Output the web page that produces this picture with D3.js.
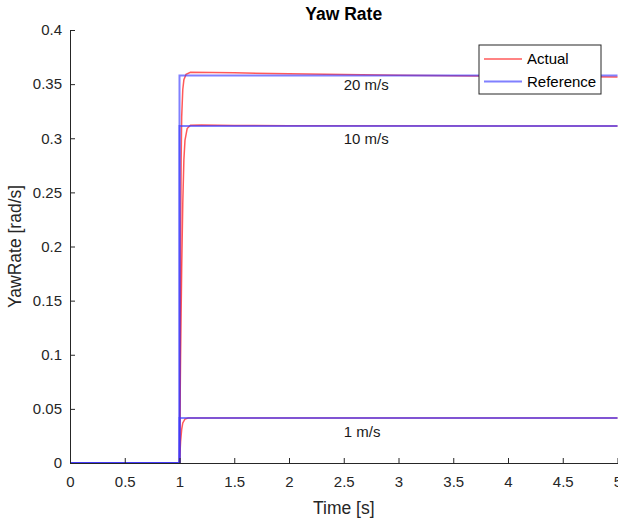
<!DOCTYPE html>
<html>
<head>
<meta charset="utf-8">
<script src="https://cdn.jsdelivr.net/npm/d3@7"></script>
<style>
    body { margin: 0; background: #fff; }
    svg { display: block; font-family: "Liberation Sans", Arial, sans-serif; }
</style>
</head>
<body>
<div id="chart"></div>
<script>
"use strict";

// time samples and yaw rate values
var refTime = [0, 1, 1, 5];
var ref20 = [0, 0, 0.358, 0.358];
var ref10 = [0, 0, 0.3113, 0.3113];
var ref1 = [0, 0, 0.0416, 0.0416];

var act20Time = [0, 1, 1.005, 1.01, 1.015, 1.02, 1.03, 1.04, 1.06, 1.1, 1.5, 2, 2.5, 3, 4, 5];
var act20 = [0, 0, 0.1, 0.2, 0.28, 0.32, 0.345, 0.354, 0.359, 0.361, 0.3605, 0.3595, 0.3588, 0.3582, 0.3573, 0.3566];

var act10Time = [0, 1, 1.01, 1.02, 1.03, 1.04, 1.05, 1.07, 1.1, 1.2, 1.5, 2, 5];
var act10 = [0, 0, 0.1, 0.18, 0.24, 0.28, 0.298, 0.309, 0.312, 0.3122, 0.3118, 0.3115, 0.3113];

var act1Time = [0, 1, 1.01, 1.02, 1.03, 1.05, 1.08, 5];
var act1 = [0, 0, 0.02, 0.031, 0.037, 0.0405, 0.0415, 0.0416];

var labels = ["20 m/s", "10 m/s", "1 m/s"];
var labelX = [2.5, 2.5, 2.5];
var labelY = [0.349, 0.2995, 0.029];

var xTicks = [0, 0.5, 1, 1.5, 2, 2.5, 3, 3.5, 4, 4.5, 5];
var xTickLabels = ["0", "0.5", "1", "1.5", "2", "2.5", "3", "3.5", "4", "4.5", "5"];
var yTicks = [0, 0.05, 0.1, 0.15, 0.2, 0.25, 0.3, 0.35, 0.4];
var yTickLabels = ["0", "0.05", "0.1", "0.15", "0.2", "0.25", "0.3", "0.35", "0.4"];

var legendNames = ["Actual", "Reference"];
var legendColors = ["#ff0000", "#0000ff"];

function zip(t, v) {
    return t.map(function(d, i) { return {t: d, v: v[i]}; });
}

function yawChart()
{
    var w = 618;
    var h = 521;
    var margin = {top: 30, left: 70, bottom: 58};

    var svg = d3.select("#chart")
        .append("svg")
        .attr("width", w)
        .attr("height", h);

    var x = d3.scaleLinear().domain([0, 5]).range([margin.left, 617.5]);
    var y = d3.scaleLinear().domain([0, 0.4]).range([h - margin.bottom, margin.top]);

    var line = d3.line()
        .x(function(d) { return x(d.t); })
        .y(function(d) { return y(d.v); });

    var actual = [zip(act20Time, act20), zip(act10Time, act10), zip(act1Time, act1)];
    var reference = [zip(refTime, ref20), zip(refTime, ref10), zip(refTime, ref1)];

    //actual responses
    svg.selectAll("path.actual")
        .data(actual)
        .enter()
        .append("path")
        .attr("class", "actual")
        .attr("d", line)
        .attr("fill", "none")
        .attr("stroke", legendColors[0])
        .attr("stroke-opacity", 0.65)
        .attr("stroke-width", 1.5);

    //reference steps
    svg.selectAll("path.reference")
        .data(reference)
        .enter()
        .append("path")
        .attr("class", "reference")
        .attr("d", line)
        .attr("fill", "none")
        .attr("stroke", "#3c3cff")
        .attr("stroke-opacity", 0.65)
        .attr("stroke-width", 2);

    //axes with inward ticks
    var xAxis = svg.append("g")
        .attr("transform", "translate(0," + y(0) + ")")
        .call(d3.axisBottom(x)
            .tickValues(xTicks)
            .tickFormat(function(d, i) { return xTickLabels[i]; })
            .tickSizeInner(-5)
            .tickSizeOuter(0)
            .tickPadding(13));

    var yAxis = svg.append("g")
        .attr("transform", "translate(" + x(0) + ",0)")
        .call(d3.axisLeft(y)
            .tickValues(yTicks)
            .tickFormat(function(d, i) { return yTickLabels[i]; })
            .tickSizeInner(-5)
            .tickSizeOuter(0)
            .tickPadding(8));

    [xAxis, yAxis].forEach(function(a) {
        a.select(".domain").attr("stroke", "#262626");
        a.selectAll(".tick line").attr("stroke", "#262626");
        a.selectAll(".tick text")
            .attr("fill", "#262626")
            .style("font-size", "15px")
            .style("font-family", "Liberation Sans, Arial, sans-serif");
    });

    //speed annotations
    svg.selectAll("text.note")
        .data(labels)
        .enter()
        .append("text")
        .attr("class", "note")
        .attr("x", function(d, i) { return x(labelX[i]); })
        .attr("y", function(d, i) { return y(labelY[i]); })
        .attr("dy", "0.35em")
        .style("font-size", "15px")
        .attr("fill", "#1a1a1a")
        .text(function(d) { return d; });

    //title and axis labels
    svg.append("text")
        .attr("x", (x(0) + x(5)) / 2)
        .attr("y", 20)
        .style("text-anchor", "middle")
        .style("font-size", "17.5px")
        .style("font-weight", "bold")
        .attr("fill", "#000")
        .text("Yaw Rate");

    svg.append("text")
        .attr("x", (x(0) + x(5)) / 2)
        .attr("y", 514)
        .style("text-anchor", "middle")
        .style("font-size", "17.5px")
        .attr("fill", "#262626")
        .text("Time [s]");

    svg.append("text")
        .attr("transform", "rotate(-90)")
        .attr("x", -(y(0) + y(0.4)) / 2)
        .attr("y", 21)
        .style("text-anchor", "middle")
        .style("font-size", "17.5px")
        .attr("fill", "#262626")
        .text("YawRate [rad/s]");

    //legend box
    var legend = svg.append("g")
        .attr("transform", "translate(479,45)");

    legend.append("rect")
        .attr("width", 122)
        .attr("height", 49)
        .attr("fill", "#fff")
        .attr("stroke", "#262626")
        .attr("stroke-width", 1);

    var items = legend.selectAll("g.item")
        .data(legendNames)
        .enter()
        .append("g")
        .attr("class", "item")
        .attr("transform", function(d, i) { return "translate(0," + (14 + i * 22.5) + ")"; });

    items.append("line")
        .attr("x1", 5)
        .attr("x2", 43)
        .attr("stroke", function(d, i) { return i === 0 ? legendColors[0] : "#3c3cff"; })
        .attr("stroke-opacity", 0.65)
        .attr("stroke-width", function(d, i) { return i === 0 ? 1.5 : 2; });

    items.append("text")
        .attr("x", 48)
        .attr("dy", "0.35em")
        .style("font-size", "15px")
        .attr("fill", "#000")
        .text(function(d) { return d; });
}

window.addEventListener('load', function () {
    yawChart();
});
</script>
</body>
</html>
